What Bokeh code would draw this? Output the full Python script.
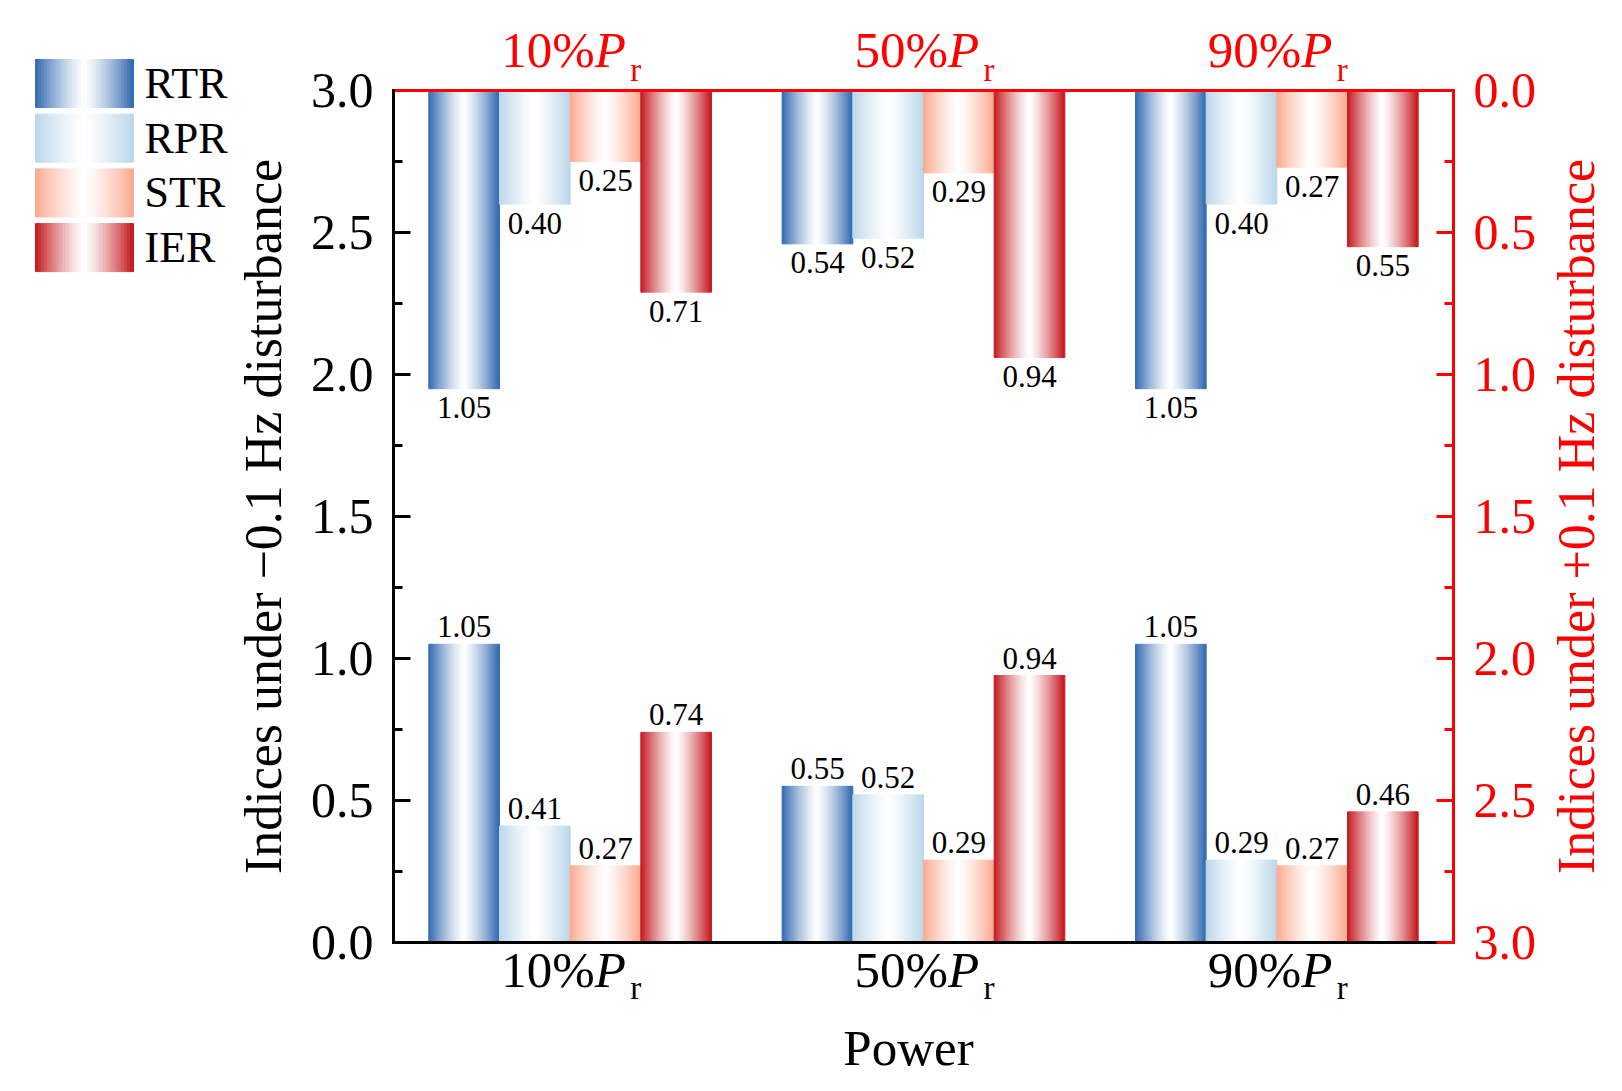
import math
from bokeh.plotting import figure
from bokeh.models import (ColumnDataSource, Range1d, LinearAxis, FixedTicker,
                          PrintfTickFormatter)
from bokeh.embed import file_html
from bokeh.resources import INLINE
from bokeh.core.properties import value

# ---------------- data ----------------
categories = ["10%", "50%", "90%"]
series = ["RTR", "RPR", "STR", "IER"]
series_colors = ["#3068B0", "#BAD6EA", "#FBA98E", "#C4161C"]

# Indices under -0.1 Hz disturbance (left axis, bars rise from bottom)
neg_RTR = [1.05, 0.55, 1.05]
neg_RPR = [0.41, 0.52, 0.29]
neg_STR = [0.27, 0.29, 0.27]
neg_IER = [0.74, 0.94, 0.46]

# Indices under +0.1 Hz disturbance (right reversed axis, bars hang from top)
pos_RTR = [1.05, 0.54, 1.05]
pos_RPR = [0.40, 0.52, 0.40]
pos_STR = [0.25, 0.29, 0.27]
pos_IER = [0.71, 0.94, 0.55]

axis_ticks = [0.0, 0.5, 1.0, 1.5, 2.0, 2.5, 3.0]
axis_minor = [0.25, 0.75, 1.25, 1.75, 2.25, 2.75]

neg_vals = [neg_RTR, neg_RPR, neg_STR, neg_IER]
pos_vals = [pos_RTR, pos_RPR, pos_STR, pos_IER]

# ---------------- layout constants ----------------
FONT = "Liberation Serif"
RED = "#FF0000"
W, H = 1606, 1075
AX_L, AX_R, AX_T, AX_B = 393, 1453, 90, 942      # plot-area box in canvas px
X0, X1, Y0, Y1 = 0.5, 3.5, 0.0, 3.0
PXU = (AX_R - AX_L) / (X1 - X0)
PYU = (AX_B - AX_T) / (Y1 - Y0)
N_STRIPS = 32
BAR_W = 0.2
OFFSETS = [-0.3, -0.1, 0.1, 0.3]


def px2x(px):
    return X0 + (px - AX_L) / PXU


def py2y(py):
    return Y0 + (AX_B - py) / PYU


def hex_rgb(h):
    h = h.lstrip("#")
    return tuple(int(h[i:i + 2], 16) for i in (0, 2, 4))


def grad_color(base, u):
    r, g, b = hex_rgb(base)
    t = abs(2 * u - 1)
    f = t ** 1.3
    return "#%02x%02x%02x" % tuple(int(round(255 + (c - 255) * f)) for c in (r, g, b))


def strip_source(vals_list):
    xs, ws, tops, bottoms, cols = [], [], [], [], []
    for si, vals in enumerate(vals_list):
        for ci, v in enumerate(vals):
            cx = ci + 1 + OFFSETS[si]
            left = cx - BAR_W / 2
            sw = BAR_W / N_STRIPS
            for k in range(N_STRIPS):
                u = (k + 0.5) / N_STRIPS
                xs.append(left + u * BAR_W)
                ws.append(sw)
                tops.append(v)
                bottoms.append(0)
                cols.append(grad_color(series_colors[si], u))
    return ColumnDataSource(dict(x=xs, w=ws, top=tops, bottom=bottoms, color=cols))


def label_source(vals_list):
    xs, ys, ts = [], [], []
    for si, vals in enumerate(vals_list):
        for ci, v in enumerate(vals):
            xs.append(ci + 1 + OFFSETS[si])
            ys.append(v)
            ts.append("%.2f" % v)
    return ColumnDataSource(dict(x=xs, y=ys, t=ts))


# ---------------- figure (frame = whole canvas) ----------------
p = figure(width=W, height=H,
           x_range=Range1d(px2x(0), px2x(W)),
           y_range=Range1d(py2y(H), py2y(0)),
           output_backend="svg", toolbar_location=None,
           x_axis_location=None, y_axis_location=None, min_border=0)
p.outline_line_color = None
p.grid.visible = False
if p.title is not None:
    p.title.visible = False
# reversed right axis: 0 at top of plot area, 3 at bottom
p.extra_y_ranges = {"right": Range1d((H - AX_T) / PYU, -AX_T / PYU)}


def style_y_axis(ax, color, draw_lines=True):
    ax.axis_line_width = 3
    ax.axis_line_color = color if draw_lines else None
    ax.axis_line_cap = "square"
    ax.major_tick_in = 17
    ax.major_tick_out = 0
    ax.minor_tick_in = 9
    ax.minor_tick_out = 0
    ax.major_tick_line_width = 3
    ax.minor_tick_line_width = 3
    ax.major_tick_line_color = color if draw_lines else None
    ax.minor_tick_line_color = color if draw_lines else None
    ax.major_label_text_font = FONT
    ax.major_label_text_font_size = "50px"
    ax.major_label_text_color = color
    ax.major_label_standoff = 20


# left axis: ticks below the top edge (the top edge itself is the red line)
yl = LinearAxis(ticker=FixedTicker(ticks=axis_ticks[:-1], minor_ticks=axis_minor),
                formatter=PrintfTickFormatter(format="%.1f"),
                fixed_location=X0, bounds=(Y0, Y1))
style_y_axis(yl, "black")
p.add_layout(yl, "left")
# label of the top tick of the left axis (no tick line over the red edge)
yl_top = LinearAxis(ticker=FixedTicker(ticks=axis_ticks[-1:], minor_ticks=[]),
                    formatter=PrintfTickFormatter(format="%.1f"),
                    fixed_location=X0, bounds=(Y0, Y1))
style_y_axis(yl_top, "black", draw_lines=False)
p.add_layout(yl_top, "left")

yr = LinearAxis(y_range_name="right",
                ticker=FixedTicker(ticks=axis_ticks, minor_ticks=axis_minor),
                formatter=PrintfTickFormatter(format="%.1f"),
                fixed_location=X1, bounds=(Y0, Y1))
style_y_axis(yr, RED)
p.add_layout(yr, "right")

for loc, color, yloc in (("above", RED, Y1), ("below", "black", Y0)):
    ax = LinearAxis(ticker=FixedTicker(ticks=[]), fixed_location=yloc, bounds=(X0, X1))
    ax.axis_line_width = 3
    ax.axis_line_color = color
    ax.axis_line_cap = "square"
    ax.major_tick_line_color = None
    ax.minor_tick_line_color = None
    ax.major_tick_out = 0
    ax.major_label_standoff = 0
    ax.major_label_text_font_size = "0px"
    p.add_layout(ax, loc)

# bars (horizontal gradient drawn as thin strips)
p.vbar(x="x", width="w", top="top", bottom="bottom", source=strip_source(neg_vals),
       fill_color="color", line_color="color", line_width=1)
p.vbar(x="x", width="w", top="top", bottom="bottom", source=strip_source(pos_vals),
       fill_color="color", line_color="color", line_width=1, y_range_name="right")

# value labels
p.text(x="x", y="y", text="t", source=label_source(neg_vals),
       text_font=value(FONT), text_font_size="31px", text_color="black",
       text_align="center", text_baseline="middle", y_offset=-17.5)
p.text(x="x", y="y", text="t", source=label_source(pos_vals),
       text_font=value(FONT), text_font_size="31px", text_color="black",
       text_align="center", text_baseline="middle", y_offset=19,
       y_range_name="right")

# category labels: "10%" + italic "P" + subscript "r" (below in black, above in red)
cat_x = [i + 1 for i in range(len(categories))]
for (py_main, py_sub, col) in ((969, 987, "black"), (49, 69, RED)):
    ym = [py2y(py_main)] * len(categories)
    ys = [py2y(py_sub)] * len(categories)
    p.text(x=cat_x, y=ym, text=categories, x_offset=-69,
           text_font=value(FONT), text_font_size="51px", text_color=col,
           text_align="left", text_baseline="middle")
    p.text(x=cat_x, y=ym, text=["P"] * len(categories), x_offset=24.5,
           text_font=value(FONT), text_font_size="51px", text_color=col,
           text_font_style="italic", text_align="left", text_baseline="middle")
    p.text(x=cat_x, y=ys, text=["r"] * len(categories), x_offset=60,
           text_font=value(FONT), text_font_size="33px", text_color=col,
           text_align="left", text_baseline="middle")

# axis titles
p.text(x=[(X0 + X1) / 2], y=[py2y(1047)], text=["Power"], x_offset=-15,
       text_font=value(FONT), text_font_size="51px", text_color="black",
       text_align="center", text_baseline="middle")
p.text(x=[px2x(262.5)], y=[(Y0 + Y1) / 2], text=["Indices under \u22120.1 Hz disturbance"],
       angle=math.pi / 2, text_font=value(FONT), text_font_size="52px",
       text_color="black", text_align="center", text_baseline="middle")
p.text(x=[px2x(1575.5)], y=[(Y0 + Y1) / 2], text=["Indices under +0.1 Hz disturbance"],
       angle=math.pi / 2, text_font=value(FONT), text_font_size="52px",
       text_color=RED, text_align="center", text_baseline="middle")

# legend (gradient swatches + names), left of the plot area
SW_L, SW_R = 35, 133
SW_TOP0, SW_H, SW_STEP = 59, 48, 54.7
lx0, lx1, ly0, ly1, lcol = [], [], [], [], []
lt_x, lt_y = [], []
for si, name in enumerate(series):
    top = SW_TOP0 + si * SW_STEP
    for k in range(N_STRIPS):
        u0 = k / N_STRIPS
        u1 = (k + 1) / N_STRIPS
        lx0.append(px2x(SW_L + u0 * (SW_R - SW_L)))
        lx1.append(px2x(SW_L + u1 * (SW_R - SW_L)))
        ly0.append(py2y(top))
        ly1.append(py2y(top + SW_H))
        lcol.append(grad_color(series_colors[si], (k + 0.5) / N_STRIPS))
    lt_x.append(px2x(SW_R + 11))
    lt_y.append(py2y(top + SW_H / 2))

p.quad(left=lx0, right=lx1, top=ly0, bottom=ly1, fill_color=lcol, line_color=lcol,
       line_width=1)
p.text(x=lt_x, y=lt_y, text=series, text_font=value(FONT), text_font_size="44px",
       text_color="black", text_align="left", text_baseline="middle")

open("out.html", "w").write(file_html(p, INLINE))
